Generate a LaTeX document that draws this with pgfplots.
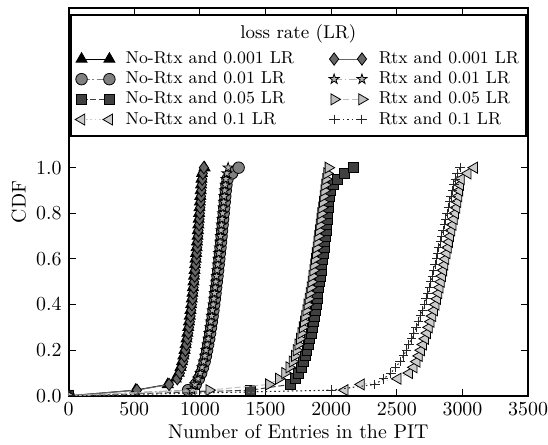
\documentclass[border=0pt]{standalone}
\usepackage{pgfplots}
\usepackage{pgfplotstable}
\pgfplotsset{compat=1.18}

% filled five-pointed star with an outline
\pgfdeclareplotmark{fstar}{%
  \pgfpathmoveto{\pgfqpoint{0pt}{\pgfplotmarksize}}%
  \pgfpathlineto{\pgfqpoint{-0.2245\pgfplotmarksize}{0.309\pgfplotmarksize}}%
  \pgfpathlineto{\pgfqpoint{-0.951\pgfplotmarksize}{0.309\pgfplotmarksize}}%
  \pgfpathlineto{\pgfqpoint{-0.3633\pgfplotmarksize}{-0.118\pgfplotmarksize}}%
  \pgfpathlineto{\pgfqpoint{-0.588\pgfplotmarksize}{-0.809\pgfplotmarksize}}%
  \pgfpathlineto{\pgfqpoint{0pt}{-0.382\pgfplotmarksize}}%
  \pgfpathlineto{\pgfqpoint{0.588\pgfplotmarksize}{-0.809\pgfplotmarksize}}%
  \pgfpathlineto{\pgfqpoint{0.3633\pgfplotmarksize}{-0.118\pgfplotmarksize}}%
  \pgfpathlineto{\pgfqpoint{0.951\pgfplotmarksize}{0.309\pgfplotmarksize}}%
  \pgfpathlineto{\pgfqpoint{0.2245\pgfplotmarksize}{0.309\pgfplotmarksize}}%
  \pgfpathclose
  \pgfusepathqfillstroke}

\definecolor{g25}{gray}{0.25}
\definecolor{g40}{gray}{0.40}
\definecolor{g50}{gray}{0.50}
\definecolor{g70}{gray}{0.70}
\definecolor{g75}{gray}{0.75}
\definecolor{g80}{gray}{0.80}
\definecolor{g15}{gray}{0.15}

% CDF of PIT size: y = cumulative fraction, one column per configuration
% A: No-Rtx 0.001, B: No-Rtx 0.01, C: No-Rtx 0.05, D: No-Rtx 0.1
% E: Rtx 0.001,    F: Rtx 0.01,    G: Rtx 0.05,    H: Rtx 0.1
\pgfplotstableread{
y     A    B    C    D    E    F    G    H
0     0    0    0    0    0    0    0    0
0.025 510  910  1384 2104 520  940  1070 2000
0.05  755  968  1690 2228 765  962  1525 2333
0.075 815  992  1725 2508 828  985  1600 2400
0.1   838  1010 1752 2595 848  1002 1648 2455
0.125 852  1024 1772 2630 862  1016 1680 2490
0.15  864  1036 1790 2652 873  1028 1705 2525
0.175 874  1046 1803 2670 882  1038 1722 2550
0.2   883  1055 1815 2686 890  1047 1736 2572
0.225 891  1063 1826 2702 898  1055 1748 2592
0.25  898  1071 1837 2717 905  1063 1760 2612
0.275 905  1078 1846 2732 912  1070 1771 2630
0.3   911  1085 1855 2746 918  1077 1782 2648
0.325 917  1091 1863 2759 924  1083 1791 2665
0.35  923  1097 1871 2772 929  1089 1800 2680
0.375 928  1103 1878 2785 934  1095 1809 2695
0.4   933  1109 1885 2797 939  1101 1818 2710
0.425 938  1114 1892 2808 944  1106 1826 2724
0.45  943  1119 1898 2818 948  1111 1834 2737
0.475 947  1124 1905 2828 952  1116 1842 2749
0.5   951  1129 1911 2837 956  1121 1849 2760
0.525 955  1134 1917 2846 960  1126 1856 2771
0.55  959  1139 1923 2855 964  1131 1863 2782
0.575 963  1143 1929 2864 968  1135 1869 2792
0.6   967  1148 1935 2872 972  1140 1875 2801
0.625 971  1152 1940 2881 976  1144 1881 2811
0.65  975  1157 1945 2890 980  1149 1887 2821
0.675 978  1161 1950 2899 984  1153 1893 2831
0.7   982  1165 1955 2908 987  1157 1899 2842
0.725 985  1169 1960 2917 990  1161 1905 2852
0.75  988  1173 1964 2926 994  1165 1911 2862
0.775 991  1177 1968 2936 997  1169 1917 2872
0.8   994  1181 1972 2946 1000 1173 1923 2883
0.825 997  1185 1977 2955 1003 1177 1929 2893
0.85  1000 1189 1982 2963 1006 1181 1935 2903
0.875 1003 1193 1988 2970 1009 1185 1941 2913
0.9   1006 1197 1995 2977 1012 1189 1947 2923
0.925 1009 1202 2015 2983 1015 1193 1953 2934
0.95  1012 1210 2050 2990 1018 1198 1960 2946
0.975 1016 1245 2104 3040 1022 1205 1968 2960
1.0   1035 1295 2167 3090 1030 1215 1978 2982
}\cdf

\pgfplotsset{
  nrA/.style={black, solid, line width=0.5pt, mark=triangle*, mark size=3.2pt,
    mark options={solid, draw=black, fill=black, line width=0.4pt}},
  nrB/.style={g50, dash pattern=on 4pt off 1.4pt on 0.8pt off 1.4pt, line width=0.5pt, mark=*, mark size=2.9pt,
    mark options={solid, draw=black, fill=g50, line width=0.4pt}},
  nrC/.style={g25, dash pattern=on 3pt off 1.4pt, line width=0.5pt, mark=square*, mark size=2.5pt,
    mark options={solid, draw=black, fill=g25, line width=0.4pt}},
  nrD/.style={g80, dash pattern=on 0.8pt off 1.4pt, line width=0.5pt, mark=triangle*, mark size=3.2pt,
    mark options={solid, rotate=90, draw=black, fill=g80, line width=0.4pt}},
  rE/.style={g40, solid, line width=0.5pt, mark=diamond*, mark size=3.1pt,
    mark options={solid, draw=black, fill=g40, line width=0.4pt}},
  rF/.style={g70, dash pattern=on 4pt off 1.4pt on 0.8pt off 1.4pt, line width=0.5pt, mark=fstar, mark size=2.6pt,
    mark options={solid, draw=black, fill=g70, line width=0.4pt}},
  rG/.style={g75, dash pattern=on 3pt off 1.4pt, line width=0.5pt, mark=triangle*, mark size=3.2pt,
    mark options={solid, rotate=-90, draw=black, fill=g75, line width=0.4pt}},
  rH/.style={g15, dash pattern=on 0.8pt off 1.4pt, line width=0.5pt, mark=+, mark size=2.4pt,
    mark options={solid, draw=g15, line width=0.5pt}},
}

% left legend column keeps a fixed width
\newcommand{\lcol}[1]{\makebox[97pt][l]{#1}}

\begin{document}
\begin{tikzpicture}
\useasboundingbox (-34.5pt,-24.5pt) rectangle (241pt,199pt);
\begin{axis}[
  scale only axis, width=231pt, height=195pt,
  xmin=0, xmax=3500, ymin=0, ymax=1.7,
  xtick={0,500,1000,1500,2000,2500,3000,3500},
  ytick={0,0.2,0.4,0.6,0.8,1.0},
  tick align=inside, major tick length=3.5pt,
  tick style={black, line width=0.5pt},
  axis line style={line width=1pt},
  xticklabel style={/pgf/number format/1000 sep={}},
  yticklabel style={/pgf/number format/.cd, fixed, fixed zerofill, precision=1},
  xlabel={Number of Entries in the PIT},
  ylabel={CDF},
  every axis x label/.style={at={(axis description cs:0.5,-0.1103)}, anchor=base},
  every axis y label/.style={at={(axis description cs:-0.1082,0.5)}, rotate=90, anchor=center},
  clip marker paths=true,
  legend columns=2,
  legend cell align=left,
  legend image code/.code={%
    \draw[mark repeat=2, mark phase=1, #1] plot coordinates {(0pt,0pt) (7pt,0pt) (14pt,0pt)};},
  legend style={
    at={(axis description cs:0.5,0.9846)}, anchor=north,
    draw=black, line width=1pt, fill=white,
    inner xsep=2pt, inner ysep=3pt,
    font=\fontsize{8.7}{10}\selectfont,
    nodes={inner sep=1.3pt, text depth=0.15em},
    column sep=4pt,
    label={[anchor=base, inner sep=0pt, yshift=-12.25pt, font=\fontsize{9.3}{11}\selectfont]north:loss rate (LR)},
  },
]
% title row of the legend
\addlegendimage{empty legend}\addlegendentry{\rule{0pt}{10pt}}
\addlegendimage{empty legend}\addlegendentry{\rule{0pt}{10pt}}
% legend entries, filled row by row
\addlegendimage{nrA}\addlegendentry{\lcol{No-Rtx and 0.001 LR}}
\addlegendimage{rE}\addlegendentry{Rtx and 0.001 LR}
\addlegendimage{nrB}\addlegendentry{\lcol{No-Rtx and 0.01 LR}}
\addlegendimage{rF}\addlegendentry{Rtx and 0.01 LR}
\addlegendimage{nrC}\addlegendentry{\lcol{No-Rtx and 0.05 LR}}
\addlegendimage{rG}\addlegendentry{Rtx and 0.05 LR}
\addlegendimage{nrD}\addlegendentry{\lcol{No-Rtx and 0.1 LR}}
\addlegendimage{rH}\addlegendentry{Rtx and 0.1 LR}

\addplot[nrA, forget plot] table[x=A, y=y] {\cdf};
\addplot[nrB, forget plot] table[x=B, y=y] {\cdf};
\addplot[nrC, forget plot] table[x=C, y=y] {\cdf};
\addplot[nrD, forget plot] table[x=D, y=y] {\cdf};
\addplot[rE, forget plot] table[x=E, y=y] {\cdf};
\addplot[rF, forget plot] table[x=F, y=y] {\cdf};
\addplot[rG, forget plot] table[x=G, y=y] {\cdf};
\addplot[rH, forget plot] table[x=H, y=y] {\cdf};
\end{axis}
\end{tikzpicture}
\end{document}
